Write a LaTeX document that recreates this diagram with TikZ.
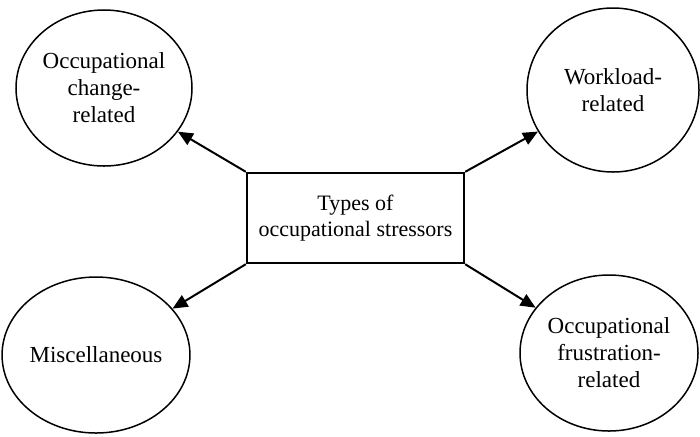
\documentclass[tikz,border=0pt]{standalone}
\usepackage{fontspec}
\setmainfont{Liberation Serif}
\usetikzlibrary{shapes.geometric,arrows.meta}

\tikzset{
  stressor/.style={draw, ellipse, line width=0.75pt, inner sep=0pt, align=center,
    font=\fontsize{11.5}{13.5}\selectfont},
  typesbox/.style={draw, rectangle, line width=1.2pt, align=center,
    minimum width=108.5pt, minimum height=45pt, font=\fontsize{11}{13}\selectfont},
  tip/.style={line width=1pt, -{Triangle[length=7.5pt,width=6.5pt]}}
}

\begin{document}
\begin{tikzpicture}[x=0.5pt,y=-0.5pt]
\useasboundingbox (0,0) rectangle (700,436);

\node[typesbox] (types) at (355.5,218) {Types of\\occupational stressors};

\node[stressor, minimum width=88pt, minimum height=78pt] (change) at (104,88) {Occupational\\change-\\related};
\node[stressor, minimum width=86pt, minimum height=82pt] (workload) at (613,90) {Workload-\\related};
\node[stressor, minimum width=88pt, minimum height=78pt] (misc) at (96,355) {Miscellaneous};
\node[stressor, minimum width=89pt, minimum height=78pt] (frustration) at (609,353) {Occupational\\frustration-\\related};

\path[draw,tip] (types.north west) -- (change);
\path[draw,tip] (types.north east) -- (workload);
\path[draw,tip] (types.south west) -- (misc);
\path[draw,tip] (types.south east) -- (frustration);
\end{tikzpicture}
\end{document}
